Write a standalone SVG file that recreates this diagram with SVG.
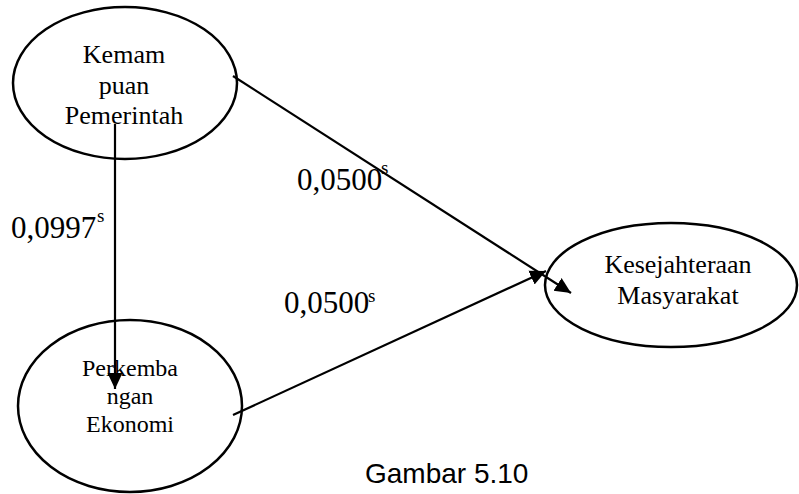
<svg xmlns="http://www.w3.org/2000/svg" width="799" height="494" viewBox="0 0 799 494">
<style>
.node ellipse{fill:#fff;stroke:#000;stroke-width:2.5}
.nt{font-family:"Liberation Serif","Times New Roman",serif;fill:#000;text-anchor:middle}
.conn line{stroke:#000;stroke-width:2.2}
.lbl{font-family:"Liberation Serif","Times New Roman",serif;font-size:31px;fill:#000}
.sup{font-size:19px}
.cap{font-family:"Liberation Sans",Arial,sans-serif;font-size:28px;fill:#000}
</style>
<defs>
<marker id="arr" markerUnits="userSpaceOnUse" markerWidth="17" markerHeight="17" viewBox="0 0 17 17" refX="16" refY="8.5" orient="auto">
<path d="M0,1 L16,8.5 L0,16 Z" fill="#000"/>
</marker>
</defs>
<rect width="799" height="494" fill="#fff"/>
<g id="node-kemampuan" class="node">
<ellipse cx="125" cy="83" rx="112" ry="76"/>
<text class="nt" font-size="26" x="124" y="63">Kemam</text>
<text class="nt" font-size="26" x="124" y="94">puan</text>
<text class="nt" font-size="26" x="124" y="124">Pemerintah</text>
</g>
<g id="node-perkembangan" class="node">
<ellipse cx="130" cy="406" rx="112" ry="86"/>
<text class="nt" font-size="24" x="130" y="376">Perkemba</text>
<text class="nt" font-size="24" x="130" y="404">ngan</text>
<text class="nt" font-size="24" x="130" y="432">Ekonomi</text>
</g>
<g id="node-kesejahteraan" class="node">
<ellipse cx="671" cy="285" rx="126" ry="62"/>
<text class="nt" font-size="26" x="678" y="273">Kesejahteraan</text>
<text class="nt" font-size="26" x="678" y="304">Masyarakat</text>
</g>
<g id="connectors" class="conn">
<line x1="115" y1="124" x2="115" y2="389" marker-end="url(#arr)"/>
<line x1="233" y1="76" x2="571" y2="293" marker-end="url(#arr)"/>
<line x1="233" y1="415" x2="546" y2="271" marker-end="url(#arr)"/>
</g>
<g id="labels">
<text class="lbl" x="11" y="238">0,0997<tspan class="sup" x="97" y="222">s</tspan></text>
<text class="lbl" x="297" y="190">0,0500<tspan class="sup" x="381" y="174">s</tspan></text>
<text class="lbl" x="284" y="313">0,0500<tspan class="sup" x="368" y="302">s</tspan></text>
<text class="cap" x="365" y="483">Gambar 5.10</text>
</g>
</svg>
